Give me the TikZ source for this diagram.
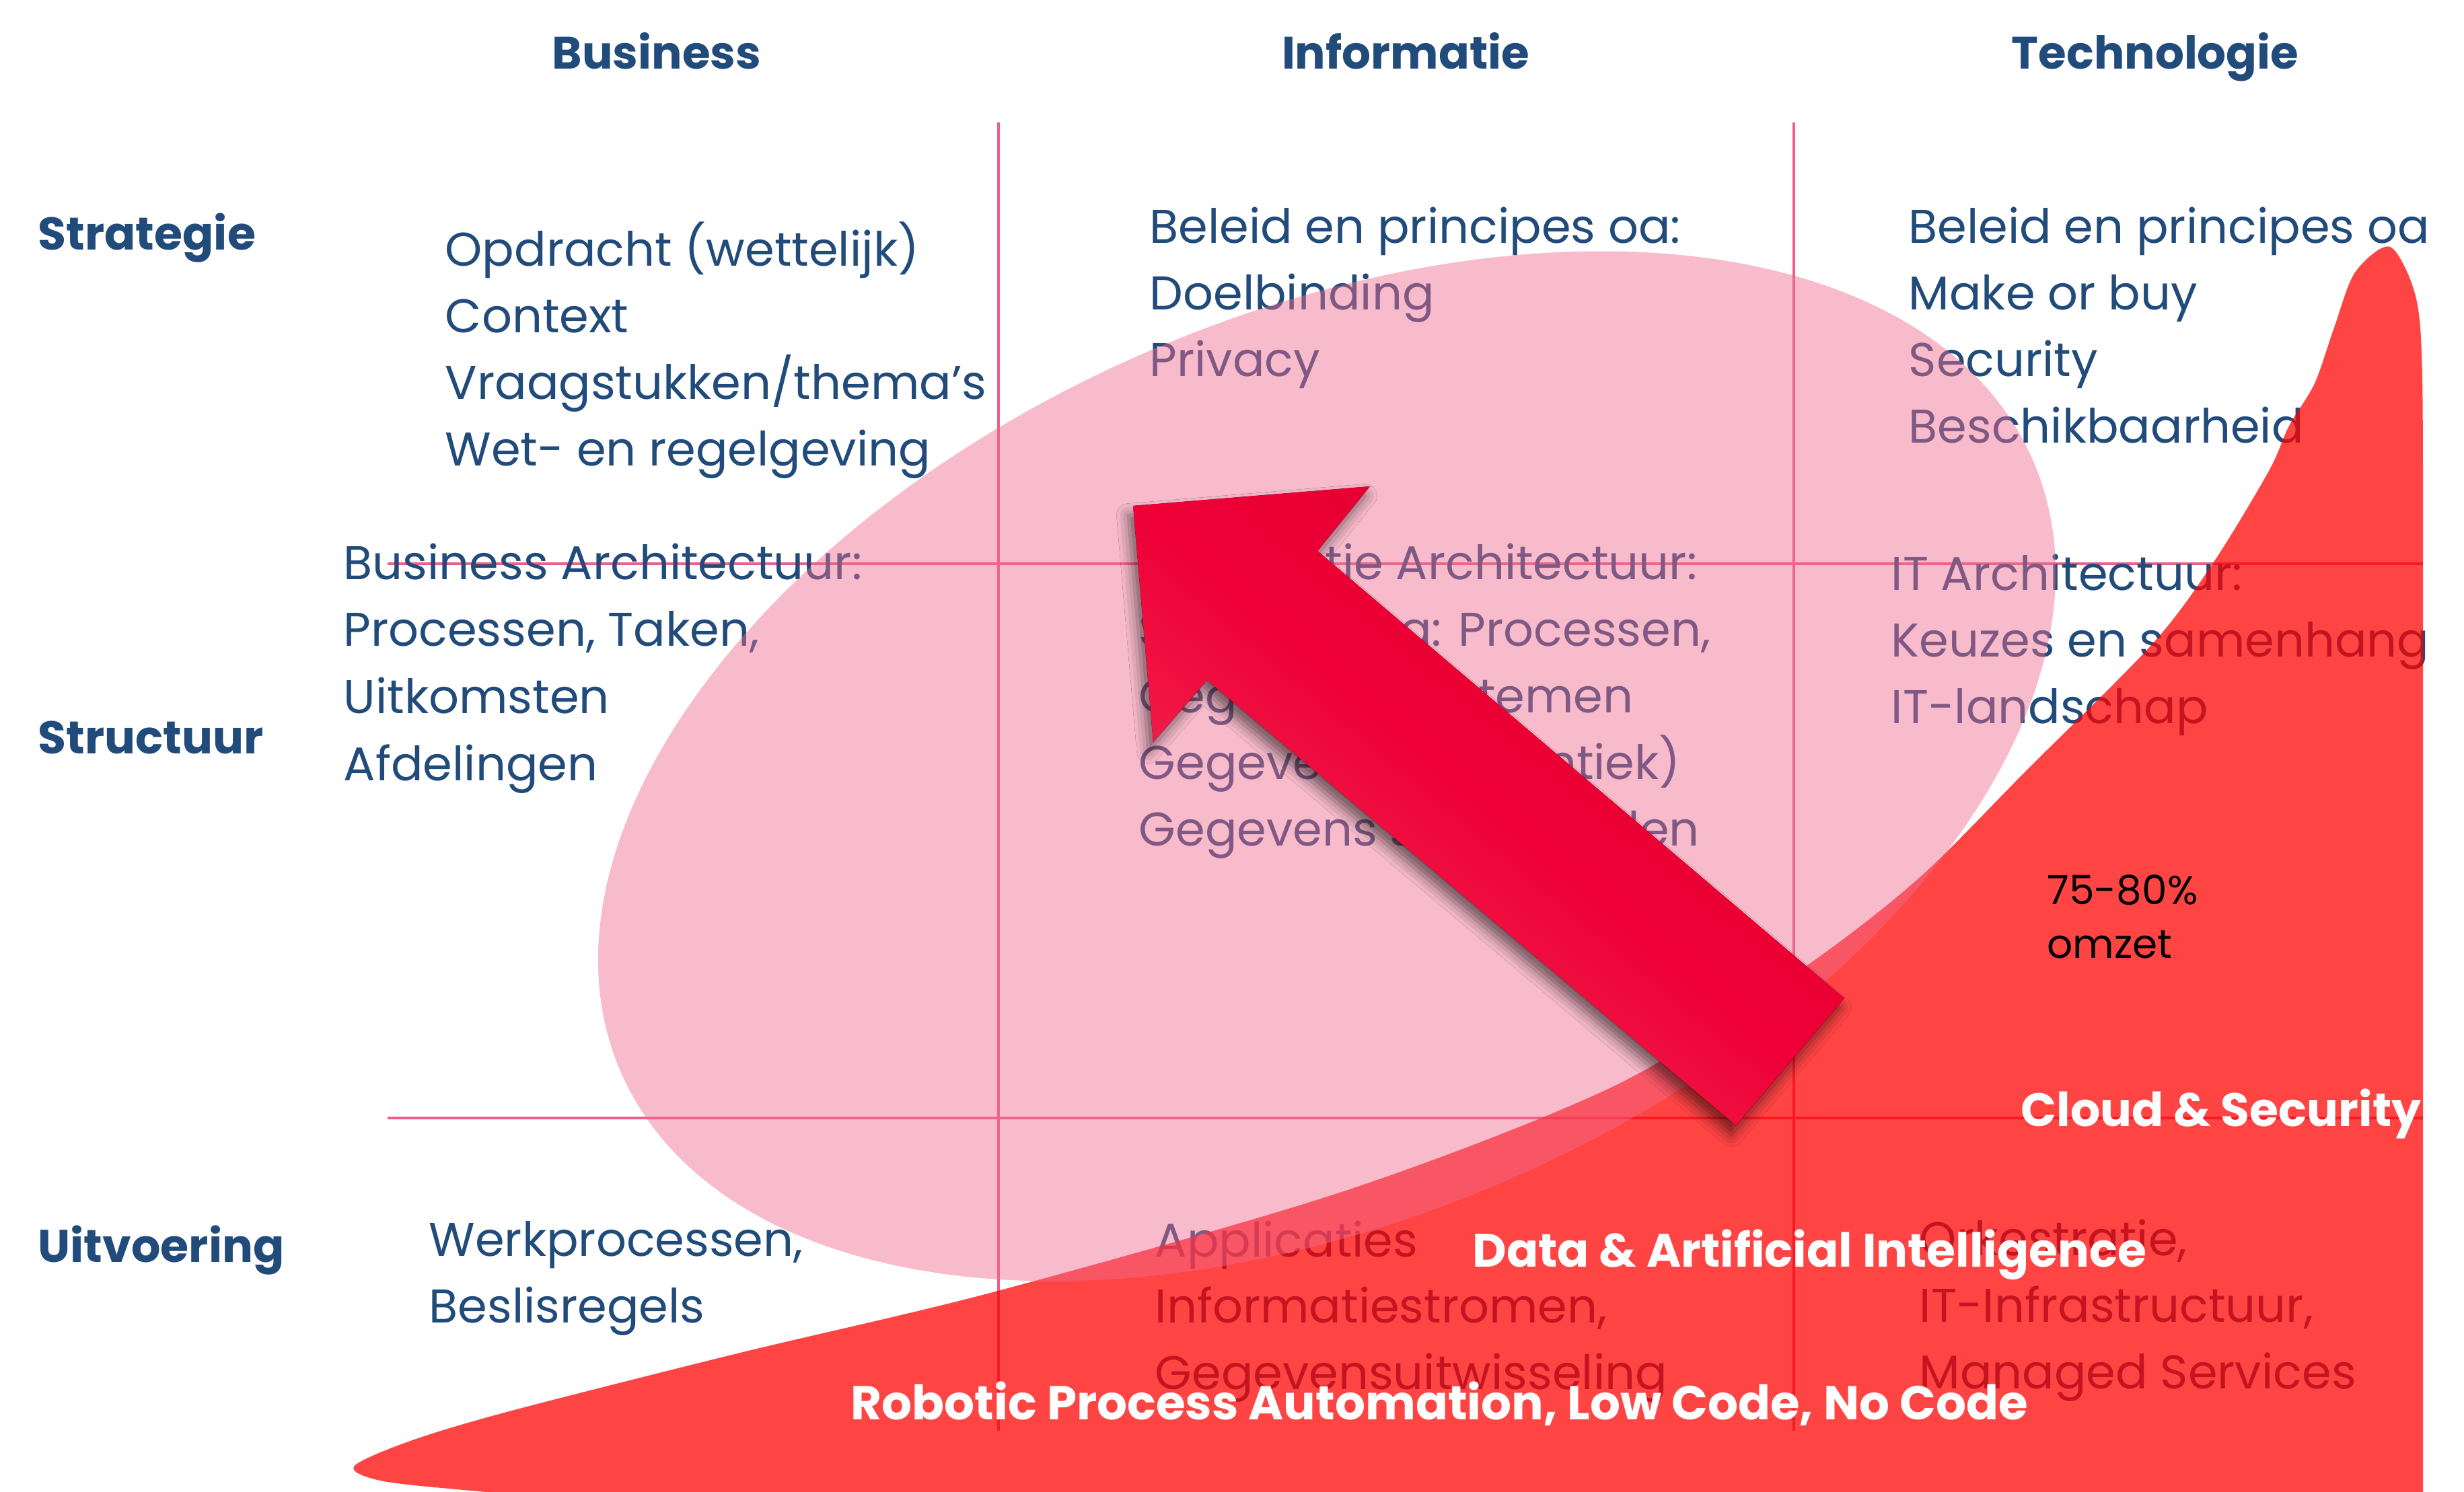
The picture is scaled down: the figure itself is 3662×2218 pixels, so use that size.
\documentclass[tikz,border=0pt]{standalone}
\usepackage{fontspec}
\setmainfont{Poppins}
\usetikzlibrary{shadows.blur}

\definecolor{navy}{RGB}{33,75,122}
\definecolor{gridpink}{RGB}{235,95,138}
\definecolor{blobpink}{RGB}{240,107,142}
\definecolor{arrowdark}{RGB}{226,0,46}
\definecolor{arrowmid}{RGB}{238,0,54}
\definecolor{arrowlight}{RGB}{243,52,88}

\begin{document}
\begin{tikzpicture}[x=0.01cm, y=-0.01cm,
  cell/.style={anchor=base west, inner sep=0pt, text=navy,
    font=\fontsize{20}{24}\selectfont},
  head/.style={anchor=base, inner sep=0pt, text=navy,
    font=\bfseries\fontsize{19.2}{24}\selectfont},
  rowlabel/.style={anchor=base west, inner sep=0pt, text=navy,
    font=\bfseries\fontsize{19.4}{24}\selectfont},
  tag/.style={anchor=base west, inner sep=0pt, text=white,
    font=\bfseries\fontsize{19.8}{24}\selectfont},
  share/.style={anchor=base west, inner sep=0pt, text=black,
    font=\fontsize{17}{20}\selectfont},
  gridline/.style={draw=gridpink, line width=1.4pt}]

\useasboundingbox[fill=white] (0,0) rectangle (3662,2218);

% ---- grid -------------------------------------------------------------
\coordinate (h1w) at (576,838);  \coordinate (h1e) at (3601,838);
\coordinate (h2w) at (576,1662); \coordinate (h2e) at (3601,1662);
\coordinate (v1n) at (1484,182); \coordinate (v1s) at (1484,2127);
\coordinate (v2n) at (2666,182); \coordinate (v2s) at (2666,2127);
\draw[gridline] (h1w) -- (h1e);
\draw[gridline] (h2w) -- (h2e);
\draw[gridline] (v1n) -- (v1s);
\draw[gridline] (v2n) -- (v2s);

% ---- column and row titles ---------------------------------------------
\node[head] (hbus) at (976,102) {Business};
\node[head] (hinf) at (2089,102) {Informatie};
\node[head] (htec) at (3203,102) {Technologie};

\node[rowlabel] (rstr) at (56,371) {Strategie};
\node[rowlabel] (rstu) at (56,1120) {Structuur};
\node[rowlabel] (ruit) at (56,1876) {Uitvoering};

% ---- cell texts ----------------------------------------------------------
\foreach \t [count=\i] in {Opdracht (wettelijk), Context, Vraagstukken/thema’s, Wet- en regelgeving}
  \node[cell] (bsa\i) at (661,{395+99.3*(\i-1)}) {\t};
\foreach \t [count=\i] in {Business Architectuur:, {Processen, Taken,}, Uitkomsten, Afdelingen}
  \node[cell] (bsb\i) at (510,{861+99.7*(\i-1)}) {\t};
\foreach \t [count=\i] in {{Werkprocessen,}, Beslisregels}
  \node[cell] (bsc\i) at (637,{1867+99*(\i-1)}) {\t};

\foreach \t [count=\i] in {Beleid en principes oa:, Doelbinding, Privacy}
  \node[cell] (ifa\i) at (1708,{361+99*(\i-1)}) {\t};
\foreach \t [count=\i] in {Informatie Architectuur:, {Samenhang: Processen,}, {Gegevens, Systemen}, Gegevens (semantiek), Gegevens standaarden}
  \node[cell] (ifb\i) at (1692,{861+99*(\i-1)}) {\t};
\foreach \t [count=\i] in {Applicaties, {Informatiestromen,}, Gegevensuitwisseling}
  \node[cell] (ifc\i) at (1716,{1868+98.5*(\i-1)}) {\t};

\foreach \t [count=\i] in {Beleid en principes oa, Make or buy, Security, Beschikbaarheid}
  \node[cell] (tca\i) at (2836,{361+99*(\i-1)}) {\t};
\foreach \t [count=\i] in {IT Architectuur:, Keuzes en samenhang, IT-landschap}
  \node[cell] (tcb\i) at (2810,{877+99*(\i-1)}) {\t};
\foreach \t [count=\i] in {{Orkestratie,}, {IT-Infrastructuur,}, Managed Services}
  \node[cell] (tcc\i) at (2852,{1866+99*(\i-1)}) {\t};

% ---- rising red wave ------------------------------------------------------
\fill[red, opacity=0.735] (3601,2240) -- plot[smooth, tension=0.5] coordinates {
    (3601,900) (3600,560) (3590,440) (3552,367) (3500,405) (3469,487)
    (3440,570) (3402,633) (3372,700) (3291,834) (3200,956) (3012,1145)
    (2849,1308) (2670,1446) (2400,1614) (2000,1770) (1483,1919)
    (1100,2011) (757,2098) (610,2142) (526,2180) (570,2202) (712,2217)
    (850,2228)} -- cycle;

% ---- translucent pink ellipse ---------------------------------------------
\fill[blobpink, opacity=0.46, rotate around={23.4:(1972,1139)}]
  (1972,1139) ellipse [x radius=11.43cm, y radius=6.71cm];

% ---- big arrow -----------------------------------------------------------
\fill[bottom color=arrowlight, top color=arrowdark, middle color=arrowmid,
      shading angle=-40,
      blur shadow={shadow xshift=-2pt, shadow yshift=-4pt,
                   shadow blur radius=5pt, shadow opacity=55}]
  (1684,752) -- (2036,723) -- (1958,819) -- (2741,1484)
  -- (2580,1673) -- (1794,1011) -- (1714,1103) -- cycle;

% ---- labels on the wave ---------------------------------------------------
\node[share] (pct) at (3042,1344) {75-80\%};
\node[share] (omz) at (3042,1424) {omzet};
\node[tag] (cloud) at (3003,1674) {Cloud \& Security};
\node[tag] (dai) at (2188,1883) {Data \& Artificial Intelligence};
\node[tag, font=\bfseries\fontsize{20.1}{24}\selectfont] (rpa) at (1264,2110)
  {Robotic Process Automation, Low Code, No Code};

\end{tikzpicture}
\end{document}
